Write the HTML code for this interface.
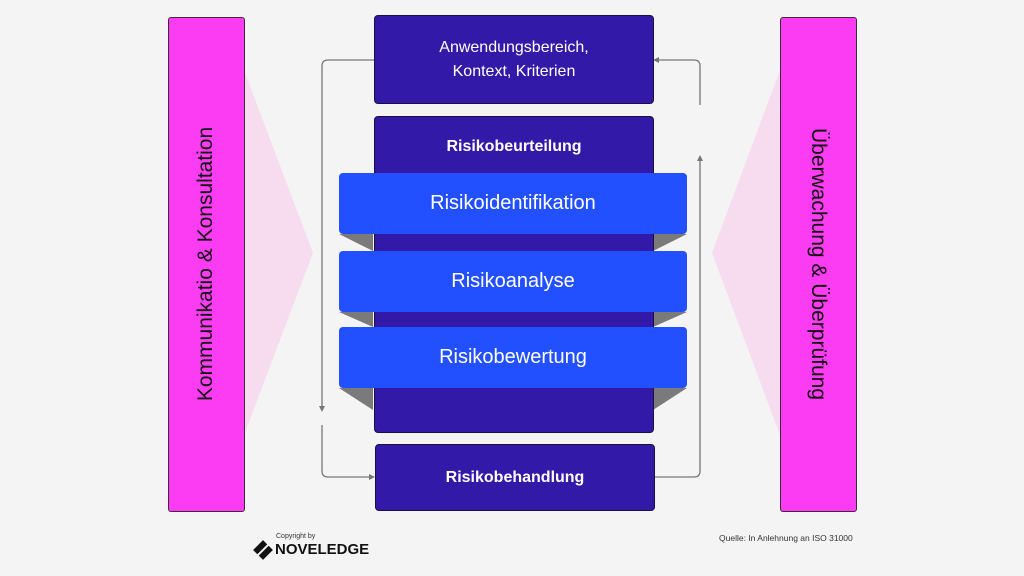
<!DOCTYPE html>
<html><head><meta charset="utf-8"><style>
body{margin:0;width:1024px;height:576px;background:#f4f4f4;position:relative;overflow:hidden;font-family:"Liberation Sans",sans-serif}
.a{position:absolute;box-sizing:border-box}
.pink{background:#fc3cf2;border:1.5px solid #3a2a3a;border-radius:3px}
.dark{background:#3219a8;border:1.5px solid #1b1040;border-radius:4px;color:#fff;display:flex;align-items:center;justify-content:center;text-align:center}
.band{background:#2350ff;border-radius:4px;color:#fff;display:flex;align-items:center;justify-content:center;font-size:20px}
.vt{position:absolute;white-space:nowrap;font-size:21px;color:#111;transform-origin:center;}
</style></head><body>
<svg class="a" style="left:0;top:0" width="1024" height="576">
<polygon points="244,70 313,253 244,435" fill="#f7dcf0"/>
<polygon points="780,70 712,253 780,435" fill="#f7dcf0"/>
<g fill="#7a7a7a">
<polygon points="339,234 373,234 373,251"/><polygon points="687,234 653,234 653,251"/>
<polygon points="339,312 373,312 373,327"/><polygon points="687,312 653,312 653,327"/>
<polygon points="339,388 373,388 373,410"/><polygon points="687,388 653,388 653,410"/>
</g>
<g stroke="#777" stroke-width="1.3" fill="none">
<path d="M374,60 H328 Q322,60 322,66 V410"/>
<path d="M322,425 V471 Q322,477 328,477 H372"/>
<path d="M654,477 H694 Q700,477 700,471 V158"/>
<path d="M700,105 V66 Q700,60 694,60 H655"/>
</g>
<g fill="#777">
<polygon points="319,406 325,406 322,412"/>
<polygon points="369,474 369,480 375,477"/>
<polygon points="697,161 703,161 700,155"/>
<polygon points="659,57 659,63 653,60"/>
</g>
</svg>
<div class="a pink" style="left:168px;top:17px;width:77px;height:495px"></div>
<div class="a pink" style="left:780px;top:17px;width:77px;height:495px"></div>
<div class="vt" style="left:206px;top:264px;transform:translate(-50%,-50%) rotate(-90deg)">Kommunikatio &amp; Konsultation</div>
<div class="vt" style="left:818px;top:264px;transform:translate(-50%,-50%) rotate(90deg)">Überwachung &amp; Überprüfung</div>
<div class="a dark" style="left:374px;top:15px;width:280px;height:89px;font-size:16px;line-height:24px">Anwendungsbereich,<br>Kontext, Kriterien</div>
<div class="a dark" style="left:374px;top:116px;width:280px;height:317px;align-items:flex-start;padding-top:21px;font-weight:bold;font-size:16px">Risikobeurteilung</div>
<div class="a band" style="left:339px;top:173px;width:348px;height:61px">Risikoidentifikation</div>
<div class="a band" style="left:339px;top:251px;width:348px;height:61px">Risikoanalyse</div>
<div class="a band" style="left:339px;top:327px;width:348px;height:61px">Risikobewertung</div>
<div class="a dark" style="left:375px;top:444px;width:280px;height:67px;font-weight:bold;font-size:16px">Risikobehandlung</div>
<div class="a" style="left:276px;top:533px;font-size:7px;color:#333">Copyright by</div>
<svg class="a" style="left:253px;top:540px" width="20" height="20"><g fill="#111" transform="rotate(45 10 10)"><rect x="3" y="3" width="6" height="14"/><rect x="11" y="3" width="6" height="14"/></g></svg>
<div class="a" style="left:275px;top:541px;font-size:15px;font-weight:bold;color:#111">NOVELEDGE</div>
<div class="a" style="left:719px;top:533px;font-size:8.5px;color:#333">Quelle: In Anlehnung an ISO 31000</div>
</body></html>
